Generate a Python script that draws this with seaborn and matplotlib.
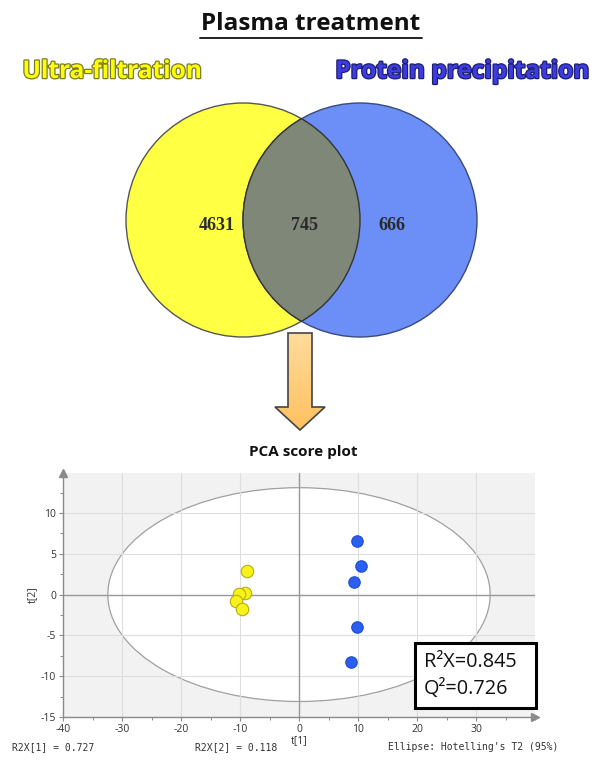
import numpy as np
import pandas as pd
import matplotlib
matplotlib.use("Agg")
import matplotlib.pyplot as plt
import seaborn as sns
from matplotlib.patches import Circle, Ellipse, Polygon, Rectangle
import matplotlib.patheffects as pe
from matplotlib.ticker import MultipleLocator

# ---- data ----
groups = ["Ultra-filtration", "Protein precipitation"]
venn_counts = [4631, 745, 666]  # only UF, shared, only PP

uf_t1 = [-8.8, -9.1, -10.2, -10.6, -9.7]
uf_t2 = [2.9, 0.2, 0.1, -0.8, -1.8]
pp_t1 = [9.8, 10.5, 9.4, 9.9, 8.8]
pp_t2 = [6.6, 3.5, 1.5, -4.0, -8.2]

r2x_total, q2_total = 0.845, 0.726
r2x_comp = [0.727, 0.118]
ellipse_axes = (32.4, 13.1)  # Hotelling's T2 (95%) semi-axes

x_ticks = [-40, -30, -20, -10, 0, 10, 20, 30]
y_ticks = [-15, -10, -5, 0, 5, 10]

df = pd.DataFrame({
    "t1": uf_t1 + pp_t1,
    "t2": uf_t2 + pp_t2,
    "group": [groups[0]] * len(uf_t1) + [groups[1]] * len(pp_t1),
})

sns.set_theme(style="white")
plt.rcParams["font.family"] = ["Open Sans", "DejaVu Sans"]
plt.rcParams["axes.unicode_minus"] = False

W, H = 594, 764
fig = plt.figure(figsize=(W / 100, H / 100), dpi=100)

# pixel-space canvas for the header, venn diagram and arrow
canvas = fig.add_axes([0, 0, 1, 1])
canvas.set_xlim(0, W)
canvas.set_ylim(H, 0)
canvas.axis("off")

canvas.text(311, 24, "Plasma treatment", ha="center", va="center",
            fontsize=17.5, fontweight="bold", color="#111111")
canvas.plot([200, 422], [38, 38], color="#111111", lw=1.3)

canvas.text(112, 72, groups[0], ha="center", va="center", fontsize=17.6,
            fontweight="bold", color="#ffff00",
            path_effects=[pe.withStroke(linewidth=1.8, foreground="#7a7a28")])
canvas.text(462, 72, groups[1], ha="center", va="center", fontsize=17.6,
            fontweight="bold", color="#3c3ce0",
            path_effects=[pe.withStroke(linewidth=1.8, foreground="#1e1e70")])

# venn circles
cy, rad = 220, 117
left = Circle((243, cy), rad, facecolor="#ffff44", edgecolor="#555555", lw=1.0, zorder=2)
right = Circle((360, cy), rad, facecolor="#6b8ff6", edgecolor="#3a4a80", lw=1.0, zorder=2)
canvas.add_patch(left)
canvas.add_patch(right)
lens = Circle((360, cy), rad, facecolor="#7f8878", edgecolor="#333333", lw=1.0, zorder=3)
canvas.add_patch(lens)
lens.set_clip_path(Circle((243, cy), rad, transform=canvas.transData))
lens_edge = Circle((243, cy), rad, facecolor="none", edgecolor="#333333", lw=1.0, zorder=4)
canvas.add_patch(lens_edge)
lens_edge.set_clip_path(Circle((360, cy), rad, transform=canvas.transData))

for xpos, val in zip([217, 304, 392], venn_counts):
    canvas.text(xpos, 225, f"{val}", ha="center", va="center", fontsize=13,
                fontweight="bold", family="Liberation Serif", color="#2a2a2a", zorder=5)

# down arrow with soft orange gradient
arrow_pts = [(288, 333), (312, 333), (312, 407), (325, 407), (300, 430),
             (275, 407), (288, 407)]
arrow = Polygon(arrow_pts, closed=True, facecolor="none", edgecolor="#444444",
                lw=1.2, zorder=6)
grad = np.linspace(0, 1, 100).reshape(-1, 1)
img = canvas.imshow(grad, extent=(274, 326, 431, 332), aspect="auto", zorder=5,
                    cmap=matplotlib.colors.LinearSegmentedColormap.from_list(
                        "orng", ["#ffdc9c", "#ffc060"]))
img.set_clip_path(Polygon(arrow_pts, closed=True, transform=canvas.transData))
canvas.add_patch(arrow)
canvas.set_xlim(0, W)
canvas.set_ylim(H, 0)

canvas.text(303, 452, "PCA score plot", ha="center", va="center",
            fontsize=11, fontweight="bold", color="#111111")

# ---- PCA score plot ----
x0, x1 = 63, 535
y_top, y_bot = 473, 717
ax = fig.add_axes([x0 / W, (H - y_bot) / H, (x1 - x0) / W, (y_bot - y_top) / H])
ax.set_facecolor("#f2f2f2")
ax.set_xlim(-40, 40)
ax.set_ylim(-15, 14.9)

ax.add_patch(Ellipse((0, 0), 2 * ellipse_axes[0], 2 * ellipse_axes[1],
                     facecolor="white", edgecolor="#a0a0a0", lw=0.9, zorder=0.5))
ax.set_xticks(x_ticks)
ax.set_yticks(y_ticks)
ax.xaxis.set_minor_locator(MultipleLocator(5))
ax.yaxis.set_minor_locator(MultipleLocator(2.5))
ax.grid(True, which="major", color="#dedede", lw=0.8, zorder=0.6)
ax.set_axisbelow(True)
ax.axhline(0, color="#9a9a9a", lw=1.0, zorder=1)
ax.axvline(0, color="#9a9a9a", lw=1.0, zorder=1)

palette = {groups[0]: "#f8f21c", groups[1]: "#2b5ff2"}
edges = {groups[0]: "#b5ad10", groups[1]: "#1f4ad0"}
sizes = {groups[0]: 80, groups[1]: 68}
for g in groups:
    sns.scatterplot(data=df[df["group"] == g], x="t1", y="t2", color=palette[g],
                    edgecolor=edges[g], linewidth=0.8, s=sizes[g], ax=ax,
                    legend=False, zorder=3)

for side in ["top", "right"]:
    ax.spines[side].set_visible(False)
for side in ["left", "bottom"]:
    ax.spines[side].set_color("#8a8a8a")
    ax.spines[side].set_linewidth(1.0)
ax.plot(1, 0, ">", color="#8a8a8a", ms=6, transform=ax.transAxes, clip_on=False)
ax.plot(0, 1, "^", color="#8a8a8a", ms=6, transform=ax.transAxes, clip_on=False)

ax.tick_params(axis="both", which="major", direction="out", length=3, width=0.8,
               color="#8a8a8a", labelsize=7.5, labelcolor="#333333", pad=2,
               bottom=True, left=True)
ax.tick_params(axis="both", which="minor", direction="out", length=2, width=0.7,
               color="#8a8a8a", bottom=True, left=True)
ax.set_xlabel("t[1]", fontsize=7.5, color="#333333", labelpad=0)
ax.set_ylabel("t[2]", fontsize=7.5, color="#333333", labelpad=2)

# overlay for annotations drawn above the score plot
over = fig.add_axes([0, 0, 1, 1])
over.set_xlim(0, W)
over.set_ylim(H, 0)
over.axis("off")
over.patch.set_alpha(0)

over.add_patch(Rectangle((415, 643), 121, 65, facecolor="white",
                         edgecolor="black", lw=2.2, zorder=9))
over.text(424, 662, f"R\u00b2X={r2x_total:.3f}", ha="left", va="center",
          fontsize=14.3, color="#111111", zorder=10)
over.text(424, 689, f"Q\u00b2={q2_total:.3f}", ha="left", va="center",
          fontsize=14.3, color="#111111", zorder=10)

mono = dict(family="DejaVu Sans Mono", fontsize=7, color="#333333", va="center")
over.text(12, 747, f"R2X[1] = {r2x_comp[0]}", ha="left", **mono)
over.text(195, 747, f"R2X[2] = {r2x_comp[1]}", ha="left", **mono)
over.text(558, 747, "Ellipse: Hotelling's T2 (95%)", ha="right", **mono)

fig.savefig("out.png", dpi=100)
